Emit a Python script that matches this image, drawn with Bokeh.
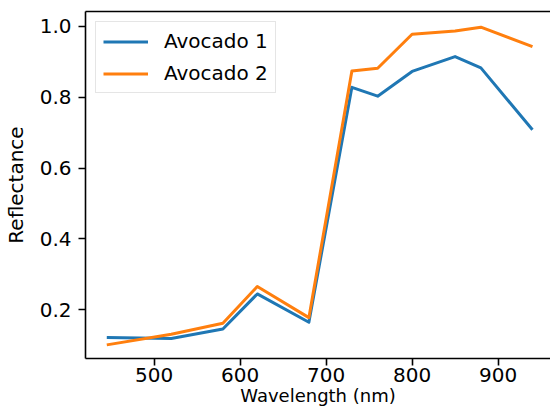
from bokeh.plotting import figure
from bokeh.models import (Range1d, FixedTicker, LinearAxis, Legend, LegendItem,
                          NumeralTickFormatter)
from bokeh.embed import file_html
from bokeh.resources import INLINE

# ---- data ----
wavelength = [445, 520, 580, 620, 680, 730, 760, 800, 850, 880, 940]
avocado_1 = [0.121, 0.118, 0.145, 0.244, 0.164, 0.828, 0.803, 0.873, 0.915, 0.883, 0.708]
avocado_2 = [0.100, 0.130, 0.161, 0.265, 0.177, 0.874, 0.882, 0.978, 0.987, 0.998, 0.943]
series_names = ["Avocado 1", "Avocado 2"]
series_colors = ["#1f77b4", "#ff7f0e"]
x_ticks = [500, 600, 700, 800, 900]
y_ticks = [0.2, 0.4, 0.6, 0.8, 1.0]
x_label = "Wavelength (nm)"
y_label = "Reflectance"

FONT = "DejaVu Sans"
FS = "20px"

p = figure(width=550, height=412, output_backend="svg", toolbar_location=None,
           x_range=Range1d(420.25, 960.95), y_range=Range1d(0.0615, 1.0424),
           min_border_left=85, min_border_right=0, min_border_top=11, min_border_bottom=54)
p.outline_line_color = None
p.grid.visible = False
p.background_fill_color = "white"
p.border_fill_color = "white"

renderers = []
for ys, c in zip([avocado_1, avocado_2], series_colors):
    r = p.line(wavelength, ys, line_color=c, line_width=3, line_join="round")
    renderers.append(r)

for ax in (p.xaxis[0], p.yaxis[0]):
    ax.axis_line_color = "black"
    ax.axis_line_width = 1.6
    ax.major_tick_line_color = "black"
    ax.major_tick_line_width = 1.6
    ax.major_tick_out = 7
    ax.major_tick_in = 0
    ax.minor_tick_line_color = None
    ax.major_label_text_font = FONT
    ax.major_label_text_font_size = FS
    ax.major_label_text_color = "black"
    ax.axis_label_text_font = FONT
    ax.axis_label_text_font_style = "normal"
    ax.axis_label_text_color = "black"

p.xaxis.ticker = FixedTicker(ticks=x_ticks)
p.yaxis.ticker = FixedTicker(ticks=y_ticks)
p.yaxis.formatter = NumeralTickFormatter(format="0.0")
p.xaxis.major_label_standoff = 2
p.yaxis.major_label_standoff = 7

p.xaxis.axis_label = x_label
p.xaxis.axis_label_text_font_size = "18px"
p.xaxis.axis_label_standoff = 0

p.yaxis.axis_label = y_label
p.yaxis.axis_label_text_font_size = FS
p.yaxis.axis_label_standoff = 9

top = LinearAxis(ticker=FixedTicker(ticks=[]), major_tick_out=0, major_tick_in=0,
                 major_label_standoff=0, major_label_text_font_size="0px",
                 axis_line_width=1.6, axis_line_color="black", minor_tick_line_color=None)
p.add_layout(top, "above")

legend = Legend(items=[LegendItem(label=n, renderers=[r]) for n, r in zip(series_names, renderers)],
                location="top_left", margin=10, padding=7, spacing=8,
                glyph_width=45, glyph_height=23, label_height=23, label_standoff=16,
                label_text_font=FONT, label_text_font_size=FS, label_text_color="black",
                border_line_color="#cccccc", border_line_width=1.5,
                background_fill_color="white", background_fill_alpha=0.8)
p.add_layout(legend)

open("out.html", "w").write(file_html(p, INLINE))
